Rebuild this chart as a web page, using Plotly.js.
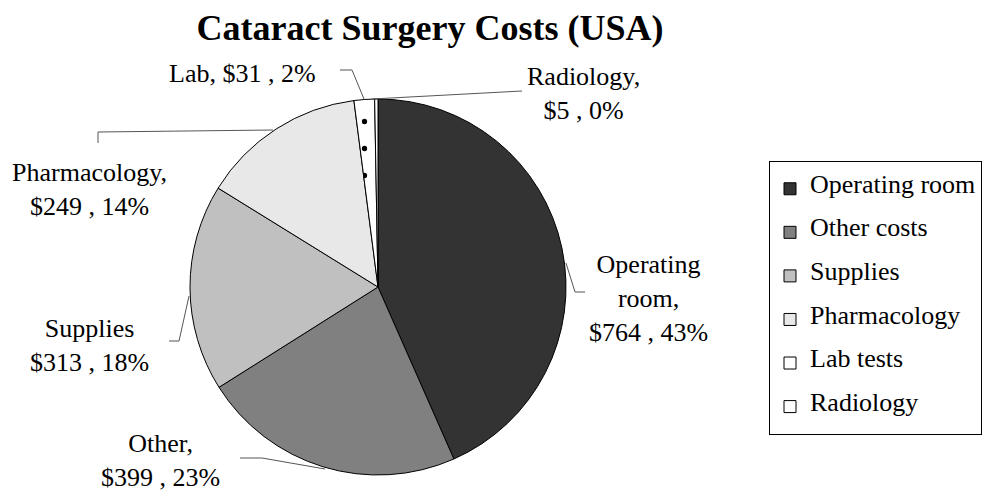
<!DOCTYPE html>
<html><head><meta charset="utf-8">
<script src="https://cdn.plot.ly/plotly-3.0.1.min.js"></script>
<style>html,body{margin:0;padding:0;background:#fff}#chart{width:989px;height:494px}</style>
</head><body><div id="chart"></div>
<script>
// ---- data ----
const categories = ['Operating room', 'Other costs', 'Supplies', 'Pharmacology', 'Lab tests', 'Radiology'];
const costs = [764, 399, 313, 249, 31, 5];
const labelNames = ['Operating<br>room,', 'Other,', 'Supplies', 'Pharmacology,', 'Lab,', 'Radiology,'];
const chartTitle = 'Cataract Surgery Costs (USA)';

// ---- styles ----
const sliceColors = ['#333333', '#808080', '#c0c0c0', '#e8e8e8', '#ffffff', '#ffffff'];
const W = 989, H = 494;
const px = (x) => x / W;
const py = (y) => 1 - y / H;
const FONT = 'Liberation Serif, Times New Roman, serif';

const total = costs.reduce((a, b) => a + b, 0);
const pct = costs.map(v => Math.round(100 * v / total));
const labelText = costs.map((v, i) => labelNames[i] + (i === 4 ? ' ' : '<br>') + '$' + v + ' , ' + pct[i] + '%');

// label placement (pixel centres) and leader lines (pixel paths)
const labelPos = [[648, 298], [160, 460], [89, 345], [89, 189], [242, 73], [583, 93]];
const leaders = [
  [[566, 263], [575, 292], [585, 292]],
  [[240, 458], [262, 458], [325, 469]],
  [[169, 341], [179, 341], [189, 296]],
  [[98, 143], [98, 132], [273, 130]],
  [[340, 70], [352, 70], [364, 99]],
  [[372, 99], [522, 91]]
];

// legend entries: blank lines above/below give the wide row spacing of the original
const legendLabels = categories.map(c => ' <br><span style="font-size:26px">' + c + '</span><br> ');

const trace = {
  type: 'pie',
  labels: legendLabels,
  values: costs,
  sort: false,
  direction: 'clockwise',
  rotation: 0,
  textinfo: 'none',
  hoverinfo: 'none',
  domain: {x: [px(378 - 188), px(378 + 188)], y: [py(475), py(99)]},
  marker: {
    colors: sliceColors,
    line: {color: '#000000', width: 1},
    pattern: {
      shape: ['', '', '', '', '.', ''],
      size: 27, solidity: 0.03,
      fgcolor: '#000000', fgopacity: 1, bgcolor: sliceColors,
      fillmode: 'overlay'
    }
  }
};

const annotations = labelText.map((t, i) => ({
  text: t, xref: 'paper', yref: 'paper',
  x: px(labelPos[i][0]), y: py(labelPos[i][1]),
  xanchor: 'center', yanchor: 'middle', align: 'center',
  showarrow: false,
  font: {family: FONT, size: 26, color: '#000'}
}));

const shapes = leaders.map(pts => ({
  type: 'path', xref: 'paper', yref: 'paper',
  path: pts.map((p, k) => (k ? 'L' : 'M') + px(p[0]) + ',' + py(p[1])).join(' '),
  line: {color: '#555555', width: 1}
}));

const layout = {
  width: W, height: H,
  margin: {l: 0, r: 0, t: 0, b: 0},
  paper_bgcolor: '#ffffff',
  title: {
    text: '<b>' + chartTitle + '</b>',
    x: px(430), xanchor: 'center', y: py(27), yanchor: 'middle',
    font: {family: FONT, size: 36, color: '#000'}
  },
  showlegend: true,
  legend: {
    x: px(769), y: py(161), xanchor: 'left', yanchor: 'top',
    bordercolor: '#000', borderwidth: 1, bgcolor: '#fff',
    font: {family: FONT, size: 10.4, color: '#000'},
    valign: 'middle', itemwidth: 30
  },
  annotations: annotations,
  shapes: shapes
};

Plotly.newPlot('chart', [trace], layout, {staticPlot: true, displayModeBar: false});
</script></body></html>
